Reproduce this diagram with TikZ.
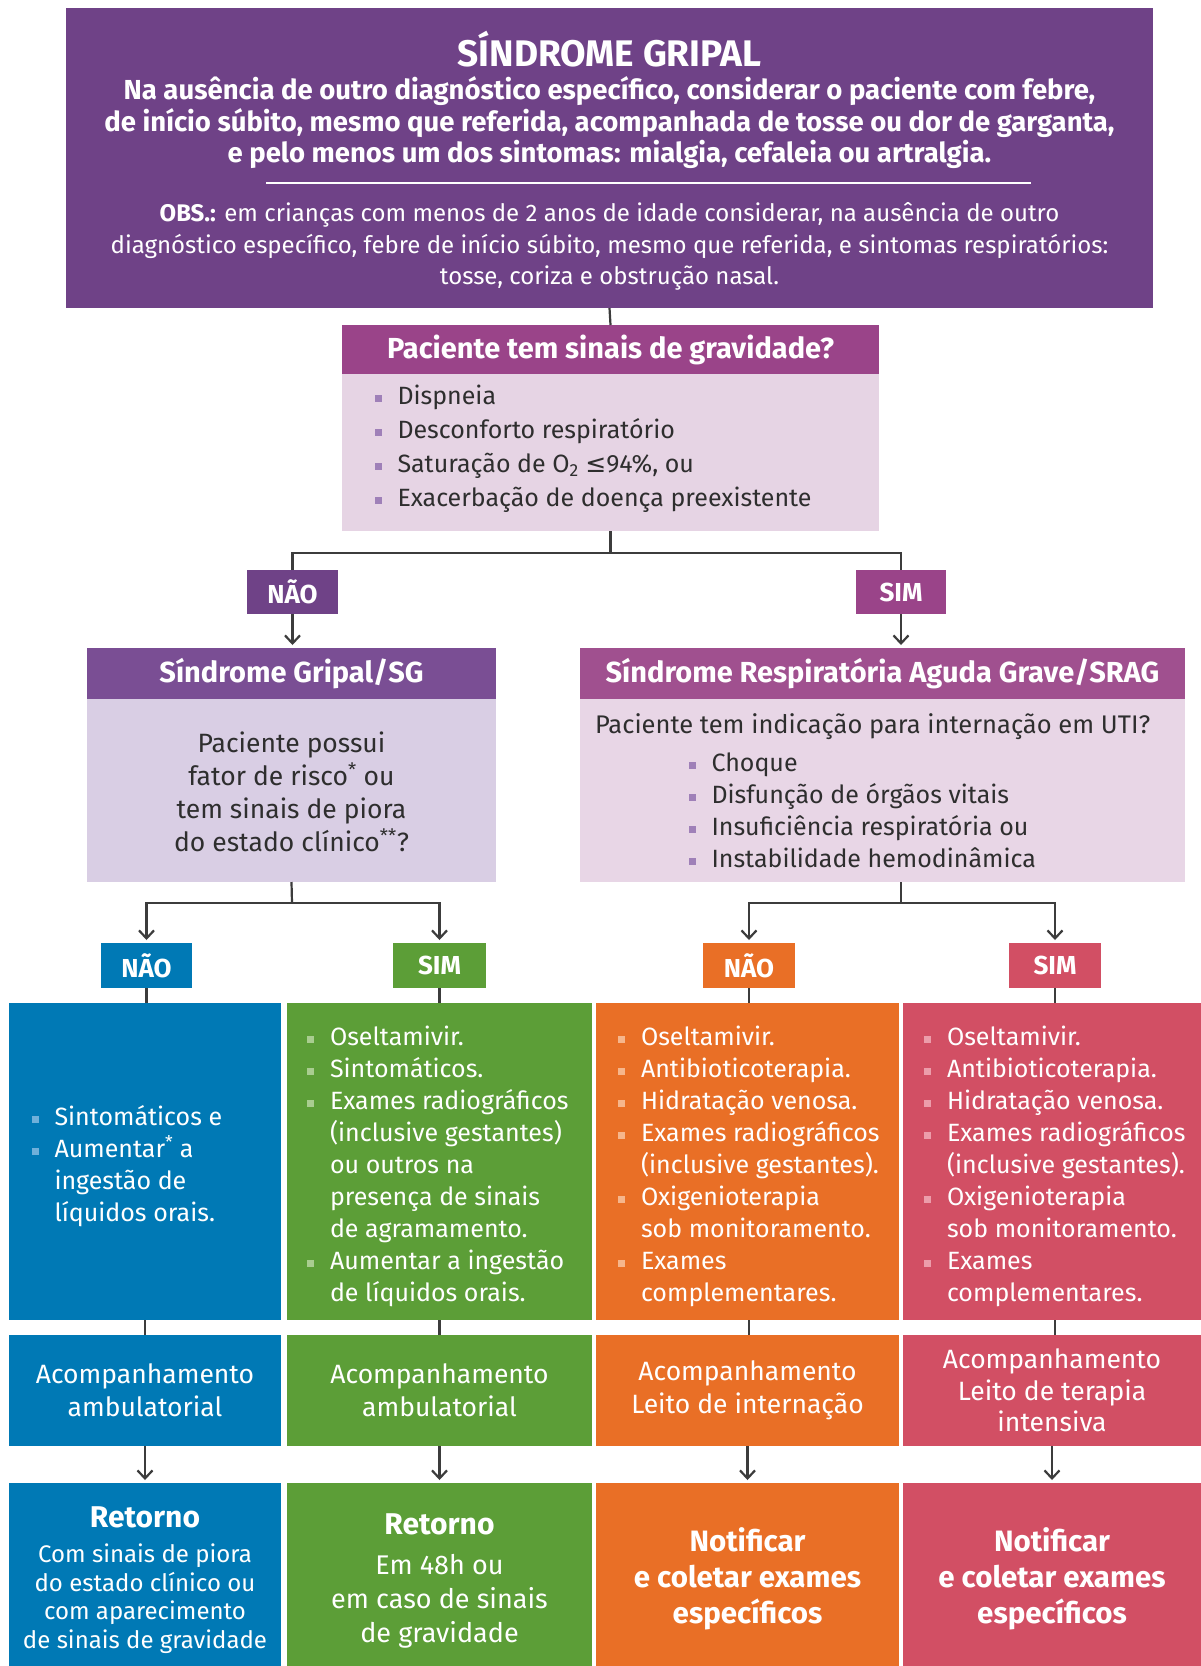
\documentclass[tikz,border=0pt]{standalone}
\usepackage{fontspec}
\setmainfont{Fira Sans}
\newfontfamily\symf{DejaVu Sans}
\usetikzlibrary{arrows.meta}
\definecolor{topP}{HTML}{6F4287}
\definecolor{gravHead}{HTML}{9A4489}
\definecolor{gravBody}{HTML}{E6D4E4}
\definecolor{naoP}{HTML}{6F4287}
\definecolor{simP}{HTML}{9A4489}
\definecolor{sgHead}{HTML}{7A4E94}
\definecolor{sgBody}{HTML}{D9CEE4}
\definecolor{sragHead}{HTML}{A0508F}
\definecolor{sragBody}{HTML}{E8D6E6}
\definecolor{purB}{HTML}{9F80B8}
\definecolor{blueC}{HTML}{0079B5}
\definecolor{greenC}{HTML}{5C9E37}
\definecolor{orangeC}{HTML}{E96F26}
\definecolor{redC}{HTML}{D24F64}
\definecolor{blueB}{HTML}{6FB0DA}
\definecolor{greenB}{HTML}{A9CD90}
\definecolor{orangeB}{HTML}{F6B68C}
\definecolor{redB}{HTML}{EC9DAA}
\definecolor{lineC}{HTML}{3C3C3C}
\definecolor{darkT}{HTML}{2E2E2E}
\newcommand{\bsq}[1]{\makebox[23pt][l]{\textcolor{#1}{\rule[2.5pt]{7pt}{7pt}}}}
\newcommand{\ind}{\hspace*{23pt}}
\begin{document}
\begin{tikzpicture}[x=1pt,y=-1pt,
  box/.style={rectangle, inner sep=0pt, outer sep=0pt, draw=none},
  lbl/.style={box, minimum height=44pt, text=white, font=\bfseries\fontsize{26}{28}\selectfont},
  head/.style={box, text=white, font=\bfseries\fontsize{29}{32}\selectfont},
  conn/.style={draw=lineC, line width=2.2pt},
  arr/.style={conn, -{Straight Barb[length=8pt,width=15pt]}, shorten >=3pt},
  txt/.style={inner sep=0pt, outer sep=0pt},
  wtxt/.style={txt, text=white, align=center},
  ltxt/.style={txt, text=white, align=left, font=\fontsize{25}{32}\selectfont},
]
\fill[white] (0,0) rectangle (1201,1666);
\useasboundingbox (0,0) rectangle (1201,1666);

% top box
\node[box, fill=topP, minimum width=1087pt, minimum height=300pt] (top) at (609.5,158) {};
\node[wtxt, font=\bfseries\fontsize{37}{40}\selectfont] (ttitle) at (609.5,49) {SÍNDROME GRIPAL};
\node[wtxt, font=\bfseries\fontsize{27.5}{31.5}\selectfont] (ttext) at (609.5,123) {Na ausência de outro diagnóstico específico, considerar o paciente com febre,\\ de início súbito, mesmo que referida, acompanhada de tosse ou dor de garganta,\\ e pelo menos um dos sintomas: mialgia, cefaleia ou artralgia.};
\draw[white, line width=2pt] (266,183) -- (1031,183);
\node[wtxt, font=\fontsize{24}{31.5}\selectfont] (tobs) at (609.5,246.5) {\textbf{OBS.:} em crianças com menos de 2 anos de idade considerar, na ausência de outro\\ diagnóstico específico, febre de início súbito, mesmo que referida, e sintomas respiratórios:\\ tosse, coriza e obstrução nasal.};

% gravidade box
\node[box, fill=gravBody, minimum width=537pt, minimum height=206pt] (grav) at (610.5,428) {};
\node[head, fill=gravHead, minimum width=537pt, minimum height=49pt] (gravh) at (610.5,349.5) {Paciente tem sinais de gravidade?};
\node[txt, anchor=west, text=darkT, align=left, font=\fontsize{25}{34}\selectfont] (gravl) at (374.5,449) {\bsq{purB}Dispneia\\ \bsq{purB}Desconforto respiratório\\ \bsq{purB}Saturação de O\textsubscript{2} {\symf ≤}94\%, ou\\ \bsq{purB}Exacerbação de doença preexistente};

% first branch
\coordinate (j1) at (610.5,553);
\node[lbl, fill=naoP, minimum width=91pt] (nao1) at (292.5,592) {NÃO};
\node[lbl, fill=simP, minimum width=90pt] (sim1) at (901,592) {SIM};
\draw[conn] (top.south) -- (grav.north);
\draw[conn] (grav.south) -- (j1);
\draw[conn] (j1) -| (nao1.north);
\draw[conn] (j1) -| (sim1.north);

% SG box
\node[box, fill=sgBody, minimum width=409pt, minimum height=234pt] (sg) at (291.5,765) {};
\node[head, fill=sgHead, minimum width=409pt, minimum height=51pt] (sgh) at (291.5,673.5) {Síndrome Gripal/SG};
\node[txt, text=darkT, align=center, font=\fontsize{26.5}{33}\selectfont] (sgt) at (291.5,792) {Paciente possui\\ fator de risco\textsuperscript{*} ou\\ tem sinais de piora\\ do estado clínico\textsuperscript{**}?};

% SRAG box
\node[box, fill=sragBody, minimum width=605pt, minimum height=234pt] (srag) at (882.5,765) {};
\node[head, fill=sragHead, minimum width=605pt, minimum height=51pt] (sragh) at (882.5,673.5) {Síndrome Respiratória Aguda Grave/SRAG};
\node[txt, anchor=west, text=darkT, font=\fontsize{25.5}{30}\selectfont] (sragq) at (595,727) {Paciente tem indicação para internação em UTI?};
\node[txt, anchor=west, text=darkT, align=left, font=\fontsize{25}{32}\selectfont] (sragl) at (688.5,810) {\bsq{purB}Choque\\ \bsq{purB}Disfunção de órgãos vitais\\ \bsq{purB}Insuficiência respiratória ou\\ \bsq{purB}Instabilidade hemodinâmica};

\draw[arr] (nao1.south) -- (nao1.south |- sg.north);
\draw[arr] (sim1.south) -- (sim1.south |- srag.north);

% second branches
\coordinate (j2) at (292,903);
\coordinate (j3) at (901,903);
\node[lbl, fill=blueC, minimum width=91pt, minimum height=45pt] (nao2) at (146.5,965.5) {NÃO};
\node[lbl, fill=greenC, minimum width=93pt, minimum height=45pt] (sim2) at (439.5,965.5) {SIM};
\node[lbl, fill=orangeC, minimum width=92pt, minimum height=45pt] (nao3) at (749,965.5) {NÃO};
\node[lbl, fill=redC, minimum width=92pt, minimum height=45pt] (sim3) at (1055,965.5) {SIM};
\draw[conn] (sg.south) -- (j2);
\draw[arr] (j2) -| (nao2.north);
\draw[arr] (j2) -| (sim2.north);
\draw[conn] (j3 |- srag.south) -- (j3);
\draw[arr] (j3) -| (nao3.north);
\draw[arr] (j3) -| (sim3.north);

% level 3 boxes
\node[box, fill=blueC, minimum width=272pt, minimum height=317pt] (b3) at (145,1161.5) {};
\node[box, fill=greenC, minimum width=305pt, minimum height=317pt] (g3) at (439.5,1161.5) {};
\node[box, fill=orangeC, minimum width=303pt, minimum height=317pt] (o3) at (747.5,1161.5) {};
\node[box, fill=redC, minimum width=298pt, minimum height=317pt] (r3) at (1052,1161.5) {};
\draw[conn] (nao2.south) -- (nao2.south |- b3.north);
\draw[conn] (sim2.south) -- (sim2.south |- g3.north);
\draw[conn] (nao3.south) -- (nao3.south |- o3.north);
\draw[conn] (sim3.south) -- (sim3.south |- r3.north);

\node[ltxt, anchor=west] (b3t) at (31.5,1166) {\bsq{blueB}Sintomáticos e\\ \bsq{blueB}Aumentar\textsuperscript{*} a\\ \ind ingestão de\\ \ind líquidos orais.};
\node[ltxt, anchor=west] (g3t) at (307,1166) {\bsq{greenB}Oseltamivir.\\ \bsq{greenB}Sintomáticos.\\ \bsq{greenB}Exames radiográficos\\ \ind(inclusive gestantes)\\ \ind ou outros na\\ \ind presença de sinais\\ \ind de agramamento.\\ \bsq{greenB}Aumentar a ingestão\\ \ind de líquidos orais.};
\node[ltxt, anchor=west] (o3t) at (618,1166) {\bsq{orangeB}Oseltamivir.\\ \bsq{orangeB}Antibioticoterapia.\\ \bsq{orangeB}Hidratação venosa.\\ \bsq{orangeB}Exames radiográficos\\ \ind(inclusive gestantes).\\ \bsq{orangeB}Oxigenioterapia\\ \ind sob monitoramento.\\ \bsq{orangeB}Exames\\ \ind complementares.};
\node[ltxt, anchor=west] (r3t) at (924,1166) {\bsq{redB}Oseltamivir.\\ \bsq{redB}Antibioticoterapia.\\ \bsq{redB}Hidratação venosa.\\ \bsq{redB}Exames radiográficos\\ \ind(inclusive gestantes).\\ \bsq{redB}Oxigenioterapia\\ \ind sob monitoramento.\\ \bsq{redB}Exames\\ \ind complementares.};

% level 4 boxes
\node[box, fill=blueC, minimum width=272pt, minimum height=111pt, text=white, align=center, font=\fontsize{26.5}{33}\selectfont] (b4) at (145,1390.5) {Acompanhamento\\ ambulatorial};
\node[box, fill=greenC, minimum width=305pt, minimum height=111pt, text=white, align=center, font=\fontsize{26.5}{33}\selectfont] (g4) at (439.5,1390.5) {Acompanhamento\\ ambulatorial};
\node[box, fill=orangeC, minimum width=303pt, minimum height=111pt, text=white, align=center, font=\fontsize{26.5}{33}\selectfont] (o4) at (747.5,1390.5) {Acompanhamento\\ Leito de internação};
\node[box, fill=redC, minimum width=298pt, minimum height=111pt, text=white, align=center, font=\fontsize{26.5}{31.5}\selectfont] (r4) at (1052,1390.5) {Acompanhamento\\ Leito de terapia\\ intensiva};
\draw[conn] (b3.south) -- (b4.north);
\draw[conn] (sim2.south |- g3.south) -- (sim2.south |- g4.north);
\draw[conn] (nao3.south |- o3.south) -- (nao3.south |- o4.north);
\draw[conn] (sim3.south |- r3.south) -- (sim3.south |- r4.north);

% level 5 boxes
\node[box, fill=blueC, minimum width=272pt, minimum height=183pt] (b5) at (145,1574.5) {};
\node[box, fill=greenC, minimum width=305pt, minimum height=183pt] (g5) at (439.5,1574.5) {};
\node[box, fill=orangeC, minimum width=303pt, minimum height=183pt] (o5) at (747.5,1574.5) {};
\node[box, fill=redC, minimum width=298pt, minimum height=183pt] (r5) at (1052,1574.5) {};
\draw[arr] (b4.south) -- (b5.north);
\draw[arr] (g4.south) -- (g5.north);
\draw[arr] (o4.south) -- (o5.north);
\draw[arr] (r4.south) -- (r5.north);

\node[wtxt, font=\bfseries\fontsize{30}{32}\selectfont] (b5h) at (145,1517) {Retorno};
\node[wtxt, font=\fontsize{24}{28.5}\selectfont] (b5t) at (145,1598.5) {Com sinais de piora\\ do estado clínico ou\\ com aparecimento\\ de sinais de gravidade};
\node[wtxt, font=\bfseries\fontsize{30}{32}\selectfont] (g5h) at (439.5,1524) {Retorno};
\node[wtxt, font=\fontsize{27}{34}\selectfont] (g5t) at (439.5,1601) {Em 48h ou\\ em caso de sinais\\ de gravidade};
\node[wtxt, font=\bfseries\fontsize{29.5}{36}\selectfont] (o5t) at (747.5,1579) {Notificar\\ e coletar exames\\ específicos};
\node[wtxt, font=\bfseries\fontsize{29.5}{36}\selectfont] (r5t) at (1052,1579) {Notificar\\ e coletar exames\\ específicos};
\end{tikzpicture}
\end{document}
